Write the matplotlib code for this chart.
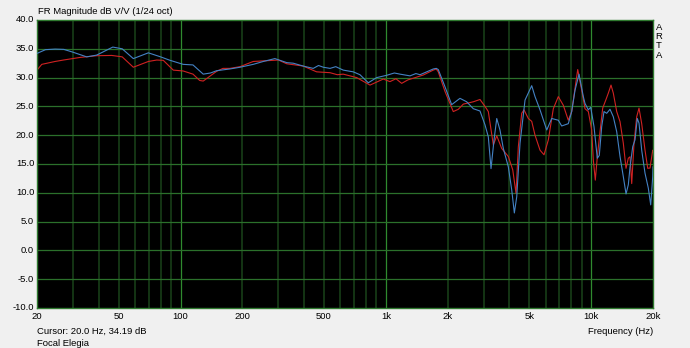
import numpy as np
import matplotlib
matplotlib.use("Agg")
import matplotlib.pyplot as plt
from matplotlib.ticker import FixedLocator, NullFormatter

# ---- data ----
blue_freq = [20, 22, 24.5, 27, 30, 34.9, 39, 46.8, 52, 58.9, 69.7, 80, 88.9, 103, 115, 129, 140, 150,
             174, 195, 226, 253, 288, 305, 329, 354, 396, 443, 470, 496, 535, 570, 620, 694, 748, 821, 902,
             1009, 1100, 1172, 1311, 1400, 1467, 1702, 1760, 1800, 1941, 2092, 2296, 2476, 2666, 2874, 3040,
             3155, 3252, 3364, 3468, 3596, 3733, 3949, 4102, 4224, 4339, 4502, 4762, 5133, 5327,
             5634, 6074, 6423, 6916, 7184, 7736, 8036, 8342, 8724, 9156, 9332, 9684, 9946, 10320,
             10710, 10952, 11252, 11546, 11900, 12350, 12816, 13314, 13818, 14338, 14780, 15164,
             15460, 15932, 16346, 16772, 17096, 17620, 18288, 18978, 19494, 19936, 20000]
blue_db = [34.2, 34.85, 34.95, 34.9, 34.4, 33.6, 33.9, 35.3, 35.0, 33.3, 34.3, 33.6, 33.0, 32.3, 32.2,
           30.6, 30.8, 31.2, 31.5, 31.8, 32.3, 32.8, 33.3, 33.0, 32.6, 32.5, 32.0, 31.6, 32.1, 31.8, 31.6,
           31.9, 31.3, 31.0, 30.5, 29.1, 30.0, 30.4, 30.8, 30.6, 30.3, 30.7, 30.5, 31.5, 31.6, 31.4, 28.4,
           25.3, 26.4, 25.8, 24.6, 24.2, 21.8, 19.7, 14.2, 19.2, 22.9, 20.9, 17.7, 14.5, 10.5, 6.5, 9.3,
           18.6, 26.1, 28.6, 26.7, 24.4, 20.9, 22.9, 22.6, 21.6, 22.0, 24.1, 27.8, 30.6, 26.7, 25.5, 24.4,
           24.85, 21.5, 16.0, 16.5, 21.5, 24.1, 23.8, 24.5, 23.2, 20.6, 16.3, 12.8, 9.8, 11.4, 14.5,
           18.0, 19.2, 22.9, 22.1, 17.4, 13.4, 10.8, 7.9, 12.8, 14.5]

red_freq = [20, 21.1, 24.5, 26.9, 32.4, 39.1, 46.2, 52, 58.9, 69.7, 76.6, 82.4, 92.2, 103, 115, 124,
            129, 150, 161, 174, 195, 226, 253, 300, 329, 396, 460, 535, 580, 620, 721, 837, 972, 1047,
            1120, 1194, 1280, 1361, 1522, 1702, 1760, 1800, 1941, 2130, 2254, 2384, 2666, 2874, 3040, 3155,
            3338, 3468, 3666, 3949, 4149, 4305, 4417, 4588, 4708, 4942, 5133, 5327, 5634, 5892,
            6185, 6540, 6916, 7314, 7736, 8036, 8598, 8992, 9332, 9684, 10058, 10240, 10472, 10710,
            11040, 11378, 11806, 12116, 12490, 12816, 13314, 13818, 14338, 14780, 15164, 15460,
            15754, 16164, 16660, 17096, 17620, 18288, 18852, 19342, 19936, 20000]
red_db = [31.3, 32.3, 32.8, 33.05, 33.5, 33.8, 33.85, 33.6, 31.8, 32.8, 33.05, 33.0, 31.3, 31.15,
          30.6, 29.5, 29.4, 31.1, 31.6, 31.6, 31.9, 32.8, 32.9, 33.05, 32.4, 32.0, 31.0, 30.85, 30.5,
          30.6, 30.0, 28.7, 29.75, 29.3, 29.8, 29.0, 29.6, 29.9, 30.45, 31.3, 31.5, 31.0, 27.6, 24.1, 24.5,
          25.4, 25.8, 26.2, 25.0, 24.1, 18.3, 19.9, 17.7, 16.3, 14.0, 9.9, 18.0, 23.8, 24.4, 22.9,
          22.4, 20.0, 17.4, 16.6, 19.2, 24.6, 26.7, 25.2, 22.6, 24.1, 31.4, 27.8, 24.6, 24.1, 20.9,
          15.7, 12.2, 16.25, 20.6, 24.7, 26.2, 27.3, 28.7, 27.3, 24.1, 22.35, 18.6, 14.25, 16.0,
          16.25, 11.6, 18.6, 23.2, 24.7, 22.0, 17.4, 14.25, 14.3, 17.4, 17.0]

x_ticks = [20, 50, 100, 200, 500, 1000, 2000, 5000, 10000, 20000]
x_tick_labels = ["20", "50", "100", "200", "500", "1k", "2k", "5k", "10k", "20k"]
y_ticks = [-10, -5, 0, 5, 10, 15, 20, 25, 30, 35, 40]
y_tick_labels = ["-10.0", "-5.0", "0.0", "5.0", "10.0", "15.0", "20.0", "25.0", "30.0", "35.0", "40.0"]

# ---- figure ----
plt.rcParams['font.family'] = ['Liberation Sans', 'DejaVu Sans']
W, H = 690, 348
fig = plt.figure(figsize=(W / 100, H / 100), dpi=100, facecolor='#f0f0f0')
L, R, T, B = 37, 653, 20, 308
ax = fig.add_axes([L / W, 1 - B / H, (R - L) / W, (B - T) / H])
ax.set_facecolor('black')
ax.set_xscale('log')
ax.set_xlim(20, 20000)
ax.set_ylim(-10, 40)

# grid
minor_f = []
for dec in [10, 100, 1000, 10000]:
    for m in range(2, 10):
        f = m * dec
        if 20 < f < 20000:
            minor_f.append(f)
for f in minor_f:
    ax.axvline(f, color='#183e18', lw=1.2, zorder=1)
for f in [100, 1000, 10000]:
    ax.axvline(f, color='#2f8a2f', lw=0.9, zorder=1.5)
for y in y_ticks[1:-1]:
    ax.axhline(y, color='#2b702b', lw=0.9, zorder=1.5)

ax.plot(blue_freq, blue_db, color='#4482c4', lw=0.8, zorder=3)
ax.plot(red_freq, red_db, color='#d02222', lw=0.8, zorder=2)

for s in ax.spines.values():
    s.set_color('#2f7a2f')
    s.set_linewidth(1.0)

ax.xaxis.set_major_locator(FixedLocator(x_ticks))
ax.xaxis.set_minor_formatter(NullFormatter())
ax.xaxis.set_minor_locator(FixedLocator([]))
ax.set_xticklabels(x_tick_labels)
ax.set_yticks(y_ticks)
ax.set_yticklabels(y_tick_labels)
fs = 6.8
ax.tick_params(axis='both', length=0, labelsize=fs, colors='black')
ax.tick_params(axis='x', pad=3)
ax.tick_params(axis='y', pad=2)
for lab in ax.get_yticklabels():
    lab.set_verticalalignment('center')

fig.text(38 / W, 1 - 12 / H, "FR Magnitude dB V/V (1/24 oct)", fontsize=fs, va='center', ha='left')
fig.text(37 / W, 1 - 331 / H, "Cursor: 20.0 Hz, 34.19 dB", fontsize=fs, va='center', ha='left')
fig.text(37 / W, 1 - 343 / H, "Focal Elegia", fontsize=fs, va='center', ha='left')
fig.text(653 / W, 1 - 331 / H, "Frequency (Hz)", fontsize=fs, va='center', ha='right')
for i, ch in enumerate("ARTA"):
    fig.text(659 / W, 1 - (27 + i * 9.5) / H, ch, fontsize=fs, va='center', ha='center')

fig.savefig("out.png", dpi=100, facecolor=fig.get_facecolor())
